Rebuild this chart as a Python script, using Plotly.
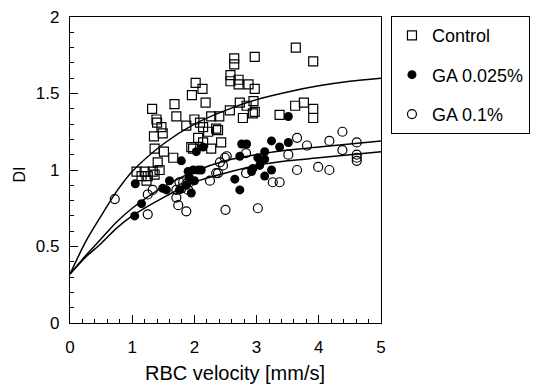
import plotly.graph_objects as go

# ---- data ----
control_x = [3.63, 3.91, 2.64, 2.64, 2.97, 2.58, 2.58, 2.71, 2.71, 2.87, 2.97,
             2.02, 1.96, 2.13, 2.18, 1.68, 1.32, 2.73, 2.84, 2.95, 2.97,
             3.62, 3.76, 3.91, 3.37, 3.91, 1.39, 1.71, 2.00, 2.27, 2.40, 2.78, 2.57, 2.94,
             1.40, 1.47, 1.49, 1.35, 1.36, 1.51, 1.41,
             1.07, 1.20, 1.33, 1.44, 1.15, 1.25, 1.36, 1.23,
             1.87, 2.09, 2.14, 2.22, 2.38, 2.14, 2.43, 1.98, 2.27, 1.66,
             2.06, 1.95, 2.35]
control_y = [1.80, 1.71, 1.73, 1.69, 1.74, 1.62, 1.58, 1.59, 1.56, 1.56, 1.53,
             1.57, 1.49, 1.53, 1.44, 1.43, 1.40, 1.44, 1.42, 1.45, 1.38,
             1.42, 1.44, 1.40, 1.36, 1.34, 1.33, 1.35, 1.33, 1.35, 1.35, 1.34, 1.39, 1.37,
             1.31, 1.28, 1.24, 1.22, 1.14, 1.12, 1.05,
             0.99, 0.99, 0.99, 1.00, 0.96, 0.96, 0.97, 0.93,
             1.29, 1.31, 1.28, 1.25, 1.26, 1.18, 1.18, 1.14, 1.14, 1.08,
             1.21, 1.15, 1.27]

ga025_x = [3.51, 2.76, 2.84, 2.73, 3.24, 3.37, 3.51, 3.13, 3.02, 3.05, 3.13, 2.94,
           2.92, 3.24, 3.13, 2.65, 2.73,
           2.03, 2.14, 1.79, 1.05, 1.60, 1.55, 1.90, 1.98, 2.06, 2.11, 1.92, 2.00,
           1.76, 1.95, 1.15, 1.04, 1.87, 1.49]
ga025_y = [1.35, 1.17, 1.17, 1.09, 1.19, 1.15, 1.18, 1.12, 1.08, 1.03, 1.07, 1.01,
           0.99, 1.00, 0.96, 0.94, 0.87,
           1.12, 1.15, 1.06, 0.91, 0.93, 0.87, 0.99, 1.00, 1.00, 1.00, 0.95, 0.93,
           0.87, 0.85, 0.78, 0.70, 0.90, 0.88]

ga01_x = [3.65, 3.81, 4.17, 4.38, 4.61, 4.61, 4.61, 4.61, 4.38, 3.51, 3.65, 3.99,
          4.17, 3.26, 3.37, 2.83, 2.83, 2.50, 3.02,
          2.49, 2.41, 2.52, 2.46, 2.38, 2.25, 2.35,
          0.72, 1.25, 1.33, 1.25, 1.87, 1.71, 1.74, 1.76, 1.82, 1.87, 1.92, 1.71,
          1.79, 1.90]
ga01_y = [1.21, 1.16, 1.19, 1.25, 1.18, 1.10, 1.08, 1.06, 1.13, 1.10, 1.00, 1.02,
          1.00, 0.92, 0.92, 1.11, 0.98, 0.74, 0.75,
          1.08, 1.05, 1.09, 1.03, 0.98, 0.93, 0.98,
          0.81, 0.84, 0.87, 0.71, 0.73, 0.82, 0.77, 0.92, 0.92, 0.91, 0.92, 0.87,
          0.88, 0.87]

# fitted curves, values
curve_x = [0, 0.25, 0.5, 0.75, 1, 1.5, 2, 2.5, 3, 3.5, 4, 4.5, 5]
control_fit = [0.32, 0.53, 0.70, 0.86, 0.99, 1.17, 1.30, 1.39, 1.46, 1.51, 1.55, 1.58, 1.60]
ga025_fit = [0.32, 0.44, 0.55, 0.66, 0.75, 0.89, 0.99, 1.06, 1.10, 1.13, 1.15, 1.17, 1.19]
ga01_fit = [0.32, 0.43, 0.52, 0.62, 0.70, 0.82, 0.92, 0.98, 1.03, 1.06, 1.08, 1.10, 1.12]

FONT = "Liberation Sans, Arial, sans-serif"

fig = go.Figure()

for fy in (control_fit, ga025_fit, ga01_fit):
    fig.add_trace(go.Scatter(x=curve_x, y=fy, mode="lines", showlegend=False,
                             line=dict(color="black", width=1.5, shape="spline", smoothing=0.8),
                             hoverinfo="skip"))

fig.add_trace(go.Scatter(x=control_x, y=control_y, mode="markers", name="Control",
                         legendgroup="a",
                         marker=dict(symbol="square-open", size=9, color="black",
                                     line=dict(color="black", width=1.2))))
fig.add_trace(go.Scatter(x=ga025_x, y=ga025_y, mode="markers", name="GA 0.025%",
                         legendgroup="b",
                         marker=dict(symbol="circle", size=9, color="black")))
fig.add_trace(go.Scatter(x=ga01_x, y=ga01_y, mode="markers", name="GA 0.1%",
                         legendgroup="c",
                         marker=dict(symbol="circle-open", size=9, color="black",
                                     line=dict(color="black", width=1.2))))

axis_common = dict(showline=True, linecolor="black", linewidth=1.3, mirror=True,
                   ticks="inside", ticklen=8, tickwidth=1, tickcolor="black",
                   showgrid=False, zeroline=False,
                   tickfont=dict(family=FONT, size=17, color="black"))

fig.update_xaxes(range=[0, 5], dtick=1, tick0=0,
                 minor=dict(dtick=0.2, ticks="inside", ticklen=4, tickcolor="black"),
                 ticklabelstandoff=8, **axis_common)
fig.update_yaxes(range=[0, 2], dtick=0.5, tick0=0,
                 minor=dict(dtick=0.1, ticks="inside", ticklen=4, tickcolor="black"),
                 ticklabelstandoff=6, **axis_common)

fig.update_layout(
    width=536, height=384,
    margin=dict(l=70, r=155, t=17, b=61, autoexpand=False),
    paper_bgcolor="white", plot_bgcolor="white",
    font=dict(family=FONT, color="black"),
    legend=dict(x=1.032, y=1.003, xanchor="left", yanchor="top",
                bordercolor="black", borderwidth=1, bgcolor="white",
                font=dict(family=FONT, size=18, color="black"),
                traceorder="grouped", tracegroupgap=13),
    annotations=[
        dict(text="RBC velocity [mm/s]", xref="paper", yref="paper",
             x=0.532, y=-0.163, xanchor="center", yanchor="middle", showarrow=False,
             font=dict(family=FONT, size=20, color="black")),
        dict(text="DI", xref="paper", yref="paper", textangle=-90,
             x=-0.162, y=0.484, xanchor="center", yanchor="middle", showarrow=False,
             font=dict(family=FONT, size=16, color="black")),
    ],
)

fig.write_html("out.html")
